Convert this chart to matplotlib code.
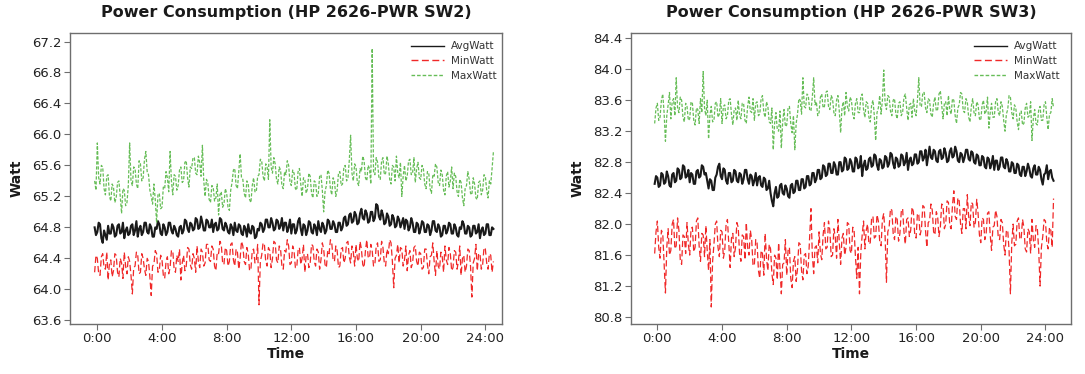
import numpy as np
import matplotlib
matplotlib.use("Agg")
import matplotlib.pyplot as plt

tick_hours = [0, 4, 8, 12, 16, 20, 24]
tick_labels = ["0:00", "4:00", "8:00", "12:00", "16:00", "20:00", "24:00"]
start_min, end_min = -10, 1470   # 5-minute samples

sw2_avg = [64.80, 64.70,
    64.74,64.86, 64.84,64.66, 64.60,64.76, 64.70,64.64, 64.82,64.72, 64.72,64.84,
    64.80,64.68, 64.70,64.82, 64.84,64.72, 64.74,64.86, 64.66,64.76, 64.80,64.70,
    64.72,64.82, 64.84,64.70, 64.76,64.88, 64.68,64.78, 64.82,64.70, 64.74,64.86,
    64.86,64.74, 64.72,64.84, 64.80,64.68, 64.68,64.80, 64.78,64.88, 64.84,64.72,
    64.70,64.84, 64.80,64.70, 64.74,64.86, 64.86,64.76, 64.72,64.82, 64.78,64.70,
    64.68,64.80, 64.82,64.72, 64.76,64.90, 64.88,64.78, 64.74,64.86, 64.84,64.76,
    64.78,64.92, 64.90,64.78, 64.80,64.94, 64.86,64.76, 64.76,64.90, 64.88,64.80,
    64.80,64.90, 64.74,64.84, 64.86,64.76, 64.78,64.92, 64.90,64.78, 64.76,64.86,
    64.82,64.74, 64.72,64.84, 64.80,64.70, 64.86,64.76, 64.74,64.84, 64.82,64.72,
    64.70,64.82, 64.78,64.68, 64.84,64.74, 64.72,64.82, 64.80,64.66, 64.68,64.78,
    64.76,64.86, 64.84,64.74, 64.78,64.90, 64.90,64.80, 64.80,64.92, 64.86,64.76,
    64.78,64.90, 64.88,64.78, 64.82,64.92, 64.76,64.86, 64.86,64.74, 64.80,64.90,
    64.72,64.84, 64.84,64.72, 64.76,64.88, 64.92,64.78, 64.70,64.84, 64.82,64.70,
    64.76,64.88, 64.86,64.74, 64.72,64.84, 64.80,64.70, 64.88,64.78, 64.74,64.86,
    64.82,64.72, 64.76,64.90, 64.88,64.78, 64.78,64.88, 64.84,64.74, 64.74,64.86,
    64.86,64.76, 64.80,64.92, 64.94,64.82, 64.84,64.96, 64.98,64.86, 64.88,65.00,
    64.96,64.84, 64.86,64.98, 65.04,64.92, 64.90,65.02, 64.98,64.86, 64.88,65.00,
    65.00,64.88, 64.92,65.10, 65.08,64.94, 64.90,65.02, 64.96,64.84, 64.86,64.98,
    64.94,64.82, 64.84,64.96, 64.92,64.80, 64.82,64.94, 64.90,64.80, 64.86,64.92,
    64.78,64.90, 64.88,64.76, 64.80,64.92, 64.86,64.74, 64.74,64.86, 64.84,64.72,
    64.78,64.88, 64.86,64.74, 64.74,64.84, 64.82,64.70, 64.76,64.88, 64.88,64.76,
    64.74,64.84, 64.80,64.68, 64.70,64.82, 64.82,64.72, 64.76,64.86, 64.84,64.72,
    64.72,64.84, 64.80,64.70, 64.68,64.80, 64.78,64.88, 64.84,64.72, 64.72,64.82,
    64.80,64.68, 64.70,64.82, 64.82,64.72, 64.74,64.84, 64.66,64.76, 64.80,64.70,
    64.72,64.84, 64.84,64.70, 64.70,64.80, 64.78]

sw2_min = [64.22, 64.44,
    64.40,64.20, 64.18,64.42, 64.46,64.28, 64.26,64.48, 64.12,64.34, 64.38,64.16,
    64.24,64.46, 64.44,64.22, 64.16,64.40, 64.34,64.14, 64.48,64.30, 64.20,64.42,
    64.36,64.18, 63.94,64.28, 64.30,64.48, 64.44,64.20, 64.22,64.46, 64.40,64.26,
    64.18,64.40, 64.36,64.16, 63.92,64.30, 64.32,64.50, 64.46,64.22, 64.24,64.44,
    64.38,64.18, 64.14,64.36, 64.42,64.20, 64.28,64.50, 64.50,64.26, 64.22,64.44,
    64.36,64.52, 64.12,64.34, 64.44,64.24, 64.30,64.54, 64.52,64.32, 64.26,64.46,
    64.40,64.22, 64.56,64.36, 64.28,64.52, 64.48,64.30, 64.34,64.58, 64.58,64.38,
    64.36,64.56, 64.52,64.30, 64.24,64.48, 64.46,64.62, 64.58,64.34, 64.32,64.54,
    64.50,64.30, 64.36,64.58, 64.60,64.38, 64.30,64.52, 64.48,64.26, 64.40,64.62,
    64.56,64.36, 64.32,64.54, 64.46,64.24, 64.26,64.50, 64.52,64.34, 64.38,64.58,
    63.80,64.36, 64.44,64.60, 64.58,64.36, 64.30,64.54, 64.50,64.28, 64.40,64.62,
    64.60,64.38, 64.34,64.56, 64.52,64.30, 64.26,64.50, 64.48,64.64, 64.56,64.32,
    64.34,64.56, 64.50,64.28, 64.28,64.50, 64.54,64.32, 64.40,64.58, 64.22,64.44,
    64.46,64.28, 64.34,64.58, 64.56,64.36, 64.30,64.52, 64.48,64.26, 64.38,64.60,
    64.52,64.32, 64.28,64.50, 64.46,64.64, 64.60,64.38, 64.36,64.56, 64.50,64.28,
    64.30,64.52, 64.54,64.34, 64.40,64.60, 64.62,64.42, 64.34,64.56, 64.48,64.30,
    64.58,64.40, 64.36,64.62, 64.52,64.32, 64.28,64.50, 64.64,64.42, 64.40,64.58,
    64.50,64.30, 64.32,64.56, 64.60,64.36, 64.38,64.62, 64.54,64.34, 64.30,64.52,
    64.46,64.64, 64.60,64.36, 64.02,64.40, 64.44,64.58, 64.34,64.54, 64.52,64.30,
    64.38,64.56, 64.24,64.44, 64.50,64.28, 64.34,64.54, 64.56,64.36, 64.30,64.48,
    64.46,64.26, 64.28,64.52, 64.52,64.32, 64.20,64.42, 64.44,64.60, 64.36,64.18,
    64.50,64.30, 64.26,64.48, 64.42,64.22, 64.56,64.38, 64.32,64.54, 64.46,64.24,
    64.28,64.50, 64.48,64.26, 64.36,64.56, 64.18,64.40, 64.44,64.22, 64.30,64.52,
    64.50,64.30, 63.90,64.34, 64.40,64.58, 64.24,64.46, 64.46,64.26, 64.32,64.54,
    64.52,64.34, 64.26,64.46, 64.44,64.22, 64.36]

sw2_max = [65.40, 65.28,
    65.89,65.44, 65.36,65.60, 65.58,65.30, 65.22,65.46, 65.48,65.20, 65.14,65.36,
    65.32,65.12, 65.18,65.38, 65.40,65.20, 64.98,65.30, 65.28,65.08, 65.12,65.34,
    65.89,65.40, 65.34,65.58, 65.56,65.36, 65.30,65.66, 65.62,65.40, 65.44,65.68,
    65.78,65.52, 65.48,65.28, 65.20,65.10, 65.36,65.16, 64.86,65.22, 65.24,65.04,
    65.06,65.32, 65.30,65.52, 65.44,65.26, 65.78,65.40, 65.22,65.48, 65.46,65.28,
    65.34,65.54, 65.58,65.38, 65.40,65.64, 65.66,65.44, 65.32,65.58, 65.56,65.70,
    65.70,65.50, 65.48,65.72, 65.64,65.46, 65.86,65.40, 65.20,65.42, 65.38,65.16,
    65.12,65.34, 65.32,65.14, 65.18,65.36, 64.96,65.22, 65.26,65.06, 65.10,65.30,
    65.24,65.06, 65.02,65.28, 65.38,65.54, 65.56,65.34, 65.30,65.52, 65.75,65.44,
    65.42,65.24, 65.18,65.40, 65.36,65.16, 65.12,65.34, 65.44,65.26, 65.26,65.46,
    65.48,65.68, 65.66,65.46, 65.40,65.62, 65.58,65.42, 66.19,65.58, 65.50,65.70,
    65.62,65.42, 65.36,65.58, 65.54,65.34, 65.30,65.52, 65.48,65.66, 65.60,65.38,
    65.34,65.54, 65.50,65.30, 65.28,65.52, 65.56,65.36, 65.20,65.44, 65.42,65.24,
    65.30,65.50, 65.46,65.24, 65.18,65.40, 65.38,65.20, 65.24,65.46, 65.48,65.28,
    65.00,65.26, 65.34,65.54, 65.50,65.30, 65.22,65.44, 65.40,65.20, 65.28,65.50,
    65.52,65.34, 65.36,65.58, 65.60,65.40, 65.44,65.66, 65.99,65.50, 65.40,65.62,
    65.58,65.38, 65.34,65.56, 65.52,65.72, 65.66,65.44, 65.40,65.60, 65.56,65.36,
    67.11,65.52, 65.48,65.70, 65.64,65.44, 65.42,65.66, 65.70,65.48, 65.50,65.72,
    65.62,65.42, 65.36,65.60, 65.58,65.40, 65.72,65.50, 65.44,65.64, 65.20,65.46,
    65.60,65.40, 65.46,65.66, 65.68,65.48, 65.50,65.70, 65.38,65.56, 65.64,65.44,
    65.42,65.60, 65.56,65.36, 65.30,65.52, 65.50,65.30, 65.24,65.48, 65.46,65.62,
    65.58,65.38, 65.34,65.54, 65.48,65.28, 65.22,65.46, 65.52,65.32, 65.40,65.58,
    65.30,65.50, 65.46,65.26, 65.20,65.42, 65.38,65.18, 65.08,65.30, 65.34,65.52,
    65.42,65.24, 65.22,65.44, 65.36,65.18, 65.16,65.38, 65.40,65.22, 65.28,65.48,
    65.46,65.28, 65.18,65.40, 65.36,65.56, 65.78]

sw3_avg = [82.52, 82.62,
    82.60,82.48, 82.50,82.66, 82.64,82.52, 82.54,82.68, 82.62,82.50, 82.48,82.64,
    82.66,82.54, 82.56,82.72, 82.70,82.58, 82.60,82.76, 82.74,82.60, 82.62,82.70,
    82.54,82.66, 82.64,82.52, 82.52,82.68, 82.70,82.60, 82.62,82.76, 82.74,82.64,
    82.66,82.56, 82.46,82.58, 82.56,82.44, 82.44,82.60, 82.64,82.74, 82.78,82.62,
    82.58,82.72, 82.70,82.56, 82.52,82.66, 82.66,82.54, 82.56,82.70, 82.68,82.56,
    82.54,82.66, 82.64,82.52, 82.58,82.70, 82.70,82.58, 82.52,82.64, 82.62,82.50,
    82.56,82.66, 82.50,82.60, 82.62,82.50, 82.48,82.60, 82.58,82.44, 82.46,82.56,
    82.40,82.30, 82.23,82.40, 82.48,82.34, 82.36,82.50, 82.52,82.40, 82.38,82.50,
    82.46,82.36, 82.34,82.50, 82.52,82.40, 82.42,82.56, 82.56,82.44, 82.44,82.58,
    82.58,82.46, 82.48,82.62, 82.62,82.50, 82.52,82.66, 82.66,82.54, 82.58,82.70,
    82.70,82.58, 82.60,82.76, 82.74,82.62, 82.64,82.78, 82.78,82.66, 82.66,82.80,
    82.76,82.64, 82.64,82.80, 82.80,82.68, 82.70,82.86, 82.84,82.70, 82.72,82.84,
    82.80,82.68, 82.68,82.86, 82.84,82.72, 82.74,82.88, 82.62,82.76, 82.82,82.70,
    82.72,82.84, 82.86,82.74, 82.76,82.90, 82.88,82.76, 82.70,82.84, 82.82,82.72,
    82.74,82.88, 82.86,82.74, 82.78,82.92, 82.90,82.78, 82.72,82.86, 82.84,82.74,
    82.76,82.90, 82.88,82.76, 82.80,82.92, 82.70,82.82, 82.86,82.76, 82.78,82.90,
    82.90,82.78, 82.80,82.94, 82.94,82.82, 82.86,82.96, 82.76,82.88, 83.00,82.86,
    82.84,82.96, 82.94,82.82, 82.80,82.94, 82.96,82.84, 82.86,82.98, 82.92,82.80,
    82.82,82.94, 82.98,82.86, 82.88,83.00, 82.94,82.82, 82.80,82.92, 82.90,82.80,
    82.86,82.96, 82.96,82.84, 82.82,82.94, 82.92,82.80, 82.78,82.90, 82.88,82.76,
    82.76,82.88, 82.86,82.74, 82.72,82.86, 82.84,82.72, 82.78,82.88, 82.70,82.82,
    82.82,82.70, 82.74,82.86, 82.86,82.74, 82.72,82.84, 82.80,82.68, 82.68,82.80,
    82.78,82.66, 82.66,82.78, 82.76,82.64, 82.62,82.74, 82.74,82.62, 82.68,82.78,
    82.72,82.62, 82.60,82.72, 82.76,82.64, 82.64,82.74, 82.70,82.58, 82.51,82.64,
    82.66,82.76, 82.58,82.68, 82.70,82.60, 82.56]

sw3_min = [81.62, 81.90,
    82.04,81.70, 81.56,81.92, 81.88,81.50, 81.11,81.70, 81.94,81.60, 81.66,82.00,
    82.06,81.68, 81.72,82.08, 81.92,81.54, 81.48,81.86, 81.84,81.62, 82.02,81.74,
    81.60,81.94, 81.96,81.64, 81.70,82.04, 82.08,81.72, 81.52,81.88, 81.86,81.58,
    81.98,81.66, 81.40,81.80, 80.93,81.52, 81.74,82.00, 82.04,81.70, 81.58,81.92,
    81.90,81.56, 81.66,82.00, 82.06,81.74, 81.44,81.82, 81.88,81.58, 81.70,82.02,
    81.96,81.62, 81.52,81.86, 81.84,81.54, 82.02,81.70, 81.60,81.92, 81.80,81.46,
    81.48,81.80, 81.76,81.40, 81.30,81.66, 81.62,81.34, 81.88,81.56, 81.40,81.74,
    81.68,81.36, 81.22,81.60, 81.56,81.28, 81.76,81.44, 81.10,81.48, 81.50,81.80,
    81.34,81.66, 81.70,81.30, 81.18,81.52, 81.58,81.26, 81.42,81.76, 81.74,81.40,
    81.28,81.60, 81.62,81.36, 81.46,81.82, 82.20,81.60, 81.36,81.70, 81.72,81.50,
    81.90,81.62, 81.54,81.86, 82.02,81.68, 81.70,82.04, 81.92,81.58, 81.60,81.94,
    81.84,81.56, 82.06,81.76, 81.48,81.82, 81.88,81.60, 81.70,82.02, 82.00,81.66,
    81.62,81.96, 81.92,81.58, 81.30,81.70, 81.10,81.64, 81.86,82.04, 81.68,81.92,
    82.00,81.74, 81.76,82.08, 82.10,81.82, 81.84,82.12, 82.04,81.78, 81.72,82.06,
    82.14,81.86, 81.25,81.90, 81.96,82.20, 82.18,81.88, 81.80,82.10, 82.06,81.78,
    81.88,82.16, 82.20,81.90, 81.74,82.06, 82.08,81.84, 81.92,82.22, 82.16,81.86,
    81.82,82.14, 82.12,81.86, 81.94,82.24, 82.22,81.92, 81.70,82.02, 82.04,82.26,
    82.18,81.90, 81.86,82.16, 82.10,81.84, 81.96,82.26, 82.24,81.94, 82.00,82.30,
    82.28,81.98, 81.94,82.24, 82.43,82.10, 82.06,82.34, 82.30,82.00, 81.88,82.20,
    82.20,81.94, 82.38,82.10, 81.98,82.28, 82.26,81.96, 82.02,82.32, 82.14,81.86,
    81.76,82.08, 82.06,81.80, 81.88,82.14, 82.16,81.86, 81.66,81.96, 81.98,82.18,
    82.10,81.82, 81.80,82.06, 82.02,81.74, 81.60,81.92, 81.92,81.66, 81.10,81.76,
    82.00,81.72, 81.74,82.04, 82.08,81.80, 81.82,82.06, 81.96,81.68, 81.64,81.94,
    81.90,81.62, 82.06,81.80, 81.70,81.98, 81.94,81.66, 81.20,81.70, 81.84,82.06,
    82.04,81.76, 81.68,81.96, 81.92,81.70, 82.33]

sw3_max = [83.30, 83.50,
    83.56,83.34, 83.38,83.60, 83.68,83.44, 83.07,83.40, 83.54,83.70, 83.36,83.58,
    83.62,83.40, 83.89,83.50, 83.44,83.64, 83.60,83.38, 83.32,83.56, 83.52,83.34,
    83.36,83.58, 83.56,83.34, 83.28,83.50, 83.48,83.30, 83.62,83.44, 83.97,83.50,
    83.40,83.60, 83.10,83.40, 83.52,83.32, 83.34,83.56, 83.58,83.38, 83.42,83.62,
    83.30,83.52, 83.54,83.36, 83.40,83.60, 83.62,83.42, 83.28,83.48, 83.50,83.34,
    83.60,83.40, 83.36,83.56, 83.56,83.34, 83.30,83.52, 83.64,83.46, 83.44,83.62,
    83.34,83.56, 83.58,83.40, 83.42,83.62, 83.66,83.44, 83.38,83.58, 83.52,83.32,
    83.30,83.50, 82.96,83.30, 83.44,83.22, 83.20,83.46, 82.98,83.32, 83.48,83.26,
    83.28,83.50, 83.52,83.30, 83.18,83.40, 82.96,83.30, 83.42,83.62, 83.60,83.42,
    83.89,83.52, 83.50,83.68, 83.66,83.48, 83.46,83.64, 83.89,83.54, 83.58,83.40,
    83.44,83.64, 83.68,83.50, 83.52,83.70, 83.72,83.52, 83.48,83.66, 83.62,83.44,
    83.40,83.60, 83.66,83.46, 83.18,83.50, 83.58,83.40, 83.70,83.52, 83.46,83.64,
    83.60,83.42, 83.36,83.56, 83.62,83.44, 83.44,83.64, 83.68,83.48, 83.38,83.58,
    83.56,83.38, 83.32,83.54, 83.60,83.40, 83.08,83.44, 83.50,83.66, 83.42,83.60,
    83.99,83.56, 83.48,83.66, 83.64,83.46, 83.40,83.60, 83.62,83.42, 83.36,83.56,
    83.58,83.40, 83.44,83.64, 83.68,83.50, 83.34,83.54, 83.56,83.38, 83.62,83.46,
    83.40,83.60, 83.89,83.52, 83.52,83.70, 83.70,83.50, 83.44,83.62, 83.60,83.42,
    83.38,83.56, 83.64,83.46, 83.48,83.68, 83.72,83.54, 83.36,83.56, 83.58,83.40,
    83.66,83.48, 83.42,83.62, 83.60,83.40, 83.30,83.50, 83.54,83.70, 83.68,83.46,
    83.44,83.62, 83.58,83.38, 83.32,83.52, 83.62,83.44, 83.40,83.58, 83.54,83.36,
    83.34,83.54, 83.60,83.42, 83.46,83.64, 83.24,83.44, 83.56,83.38, 83.38,83.58,
    83.62,83.44, 83.40,83.58, 83.52,83.34, 83.20,83.42, 83.48,83.66, 83.64,83.44,
    83.36,83.54, 83.50,83.32, 83.22,83.44, 83.46,83.28, 83.30,83.50, 83.56,83.38,
    83.40,83.58, 83.08,83.36, 83.48,83.30, 83.28,83.48, 83.52,83.34, 83.34,83.54,
    83.58,83.38, 83.22,83.42, 83.44,83.62, 83.50]

panels = [
    dict(title="Power Consumption (HP 2626-PWR SW2)", avg=sw2_avg, mn=sw2_min, mx=sw2_max,
         yticks=[63.6, 64.0, 64.4, 64.8, 65.2, 65.6, 66.0, 66.4, 66.8, 67.2],
         ylim=(63.552, 67.31), xlim=(-1.69, 25.03),
         rect=[70/1085, 1-324/374, 432/1085, 291/374], leg_x=0.988),
    dict(title="Power Consumption (HP 2626-PWR SW3)", avg=sw3_avg, mn=sw3_min, mx=sw3_max,
         yticks=[80.8, 81.2, 81.6, 82.0, 82.4, 82.8, 83.2, 83.6, 84.0, 84.4],
         ylim=(80.71, 84.468), xlim=(-1.63, 25.58),
         rect=[631/1085, 1-324/374, 440/1085, 291/374], leg_x=0.975),
]

def hours_for(series):
    return np.linspace(start_min, end_min, len(series)) / 60.0

plt.rcParams['font.family'] = ['DejaVu Sans']
fig = plt.figure(figsize=(10.85, 3.74), dpi=100)
fig.patch.set_facecolor('white')

spine_col = '#6e6e6e'
for p in panels:
    ax = fig.add_axes(p['rect'])
    ax.plot(hours_for(p['avg']), p['avg'], color='#1a1a1a', lw=1.5, label='AvgWatt')
    ax.plot(hours_for(p['mn']), p['mn'], color='#f02828', lw=0.9, dashes=(5, 2.5), label='MinWatt')
    ax.plot(hours_for(p['mx']), p['mx'], color='#66bd57', lw=0.9, dashes=(2.6, 1.4), label='MaxWatt')
    ax.set_xlim(*p['xlim'])
    ax.set_ylim(*p['ylim'])
    ax.set_xticks(tick_hours)
    ax.set_xticklabels(tick_labels)
    ax.set_yticks(p['yticks'])
    ax.set_yticklabels([f"{v:.1f}" for v in p['yticks']])
    ax.tick_params(axis='both', direction='out', length=4, width=0.8, color=spine_col,
                   labelsize=9.5, labelcolor='#222222', pad=2)
    ax.tick_params(top=False, right=False)
    for s in ax.spines.values():
        s.set_color(spine_col)
        s.set_linewidth(1.0)
    ax.set_title(p['title'], fontsize=11.5, fontweight='bold', color='#1a1a1a', pad=11.5)
    ax.set_xlabel('Time', fontsize=10, fontweight='bold', color='#1a1a1a', labelpad=1)
    ax.set_ylabel('Watt', fontsize=10, fontweight='bold', color='#1a1a1a', labelpad=6)
    leg = ax.legend(loc='upper right', bbox_to_anchor=(p['leg_x'], 0.972), frameon=False,
                    fontsize=7.5, handlelength=3.2, handletextpad=0.7, labelspacing=0.45,
                    borderaxespad=0, borderpad=0)
    for line in leg.get_lines():
        line.set_linewidth(1.0)
    for t in leg.get_texts():
        t.set_color('#333333')

fig.savefig('out.png', dpi=100, facecolor='white')
